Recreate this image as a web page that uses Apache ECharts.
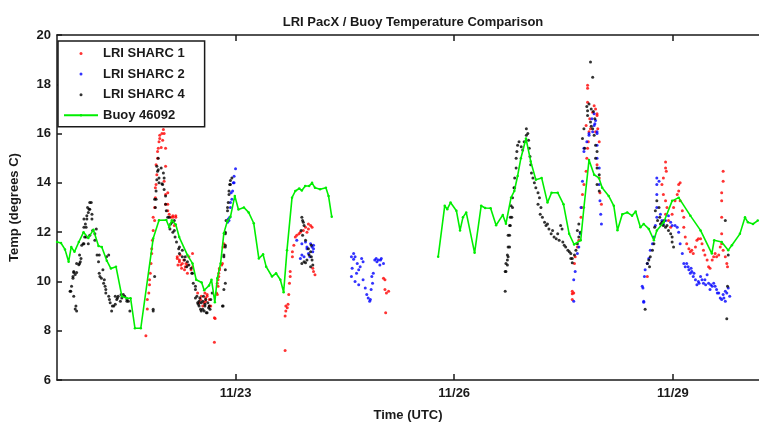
<!DOCTYPE html>
<html>
<head>
<meta charset="utf-8">
<script src="https://cdn.jsdelivr.net/npm/echarts@6/dist/echarts.min.js"></script>
<style>html,body{margin:0;padding:0;background:#fff}#c{width:759px;height:427px}</style>
</head>
<body>
<div id="c"></div>
<script>
// x = day of November 2011 (UTC, fractional), y = temperature (deg C)
const tickDays = [23, 26, 29];
const tickLabels = ['11/23', '11/26', '11/29'];
const yTicks = [6, 8, 10, 12, 14, 16, 18, 20];

const sharc1 = [
[21.77,7.8],[21.79,9.27],[21.79,8.88],[21.81,9.53],[21.82,10.07],[21.82,9.87],[21.83,10.33],[21.84,10.73],[21.85,11.13],[21.85,11.33],[21.86,11.67],[21.87,12.07],[21.87,12.6],[21.89,12.47],[21.89,13.0],[21.90,13.4],[21.90,13.8],[21.91,13.93],[21.91,14.73],[21.92,14.33],[21.93,15.0],[21.93,15.27],[21.94,15.4],[21.95,15.67],[21.96,15.93],[21.96,15.8],[21.99,16.0],[22.01,16.17],[21.98,15.43],[22.0,15.73],[22.02,16.0],[22.04,15.4],[22.04,14.67],[22.02,14.07],[22.04,13.53],[22.04,13.13],[22.07,12.87],[22.07,13.6],[22.07,13.13],[22.09,12.73],[22.11,12.6],[22.14,12.67],[22.14,12.6],[22.18,12.6],[22.18,12.67],[22.16,12.27],[22.20,10.93],[22.20,11.0],[22.23,10.8],[22.23,10.87],[22.25,10.67],[22.27,10.73],[22.30,10.47],[22.32,10.73],[22.34,10.33],[22.34,10.67],[22.36,11.0],[22.39,10.47],[22.41,10.6],[22.41,11.13],[22.48,9.53],[22.50,9.13],[22.52,9.27],[22.55,9.0],[22.57,9.13],[22.59,9.33],[22.59,9.2],[22.61,9.47],[22.61,9.4],[22.64,9.27],[22.64,9.0],[22.66,9.0],[22.71,8.53],[22.71,7.53],[22.72,8.5],[22.75,9.47],[22.76,9.8],[22.77,10.2],[22.78,10.47],
[22.21,10.67],[22.24,11.07],[22.26,10.53],[22.29,10.87],[22.31,10.6],[22.53,9.4],[22.58,9.53],
[22.74,9.53],[22.75,9.93],[22.76,10.07],[22.77,10.33],[22.78,10.53],[22.81,10.67],[22.82,10.73],[22.83,11.4],[22.84,11.53],
[23.68,7.2],[23.68,8.6],[23.69,8.8],[23.69,9.0],[23.71,8.93],[23.72,9.07],[23.73,9.47],[23.74,9.93],[23.75,10.2],[23.75,10.4],[23.78,11.0],[23.78,11.2],[23.80,11.47],[23.82,11.8],[23.84,11.87],[23.87,11.93],[23.89,12.0],[23.96,12.2],[24.0,12.13],[24.03,12.27],[24.05,12.2],[24.0,12.33],[24.07,10.4],[24.09,10.27],[24.06,10.53],[23.93,12.07],[23.98,12.0],
[25.03,10.13],[25.05,10.07],[25.07,9.53],[25.10,9.6],[25.06,8.73],[25.05,9.67],
[27.62,9.27],[27.64,9.53],[27.65,10.73],[27.66,11.0],[27.69,11.4],[27.71,11.67],[27.74,12.6],[27.75,13.0],[27.76,13.53],[27.78,13.93],[27.81,14.47],[27.82,15.0],[27.83,15.4],[27.84,15.67],[27.85,16.07],[27.86,16.6],[27.90,16.87],[27.94,17.0],[27.96,16.73],[27.97,16.2],[27.99,15.67],[27.96,14.73],[27.99,14.2],[28.0,13.6],[28.02,13.13],[27.83,17.96],[27.83,17.84],[27.83,17.27],[27.92,17.13],[27.96,16.8],[27.81,16.33],[27.87,16.2],[27.94,16.07],[27.62,9.6],[27.62,9.5],
[28.90,14.85],[28.90,14.6],[28.91,14.47],[28.87,14.2],[28.85,13.93],[28.87,13.53],[28.90,13.27],[28.92,13.0],[28.90,12.73],[28.94,12.47],[28.97,12.2],[28.99,12.73],[29.01,13.0],[29.03,13.27],[29.06,13.53],[29.08,13.93],[29.10,14.0],[29.08,13.67],[29.10,13.27],[29.13,12.87],[29.15,12.6],[29.15,12.2],[29.17,11.8],[29.19,11.53],[29.22,11.33],[29.24,11.2],[29.26,11.27],[29.28,11.13],[29.31,11.4],[29.33,11.67],[29.35,11.73],[29.38,11.73],[29.40,11.53],[29.42,11.27],[29.44,11.07],[29.47,10.87],[29.49,10.6],[29.51,10.53],[29.54,10.87],[29.56,11.0],[29.58,11.13],[29.60,11.0],[29.63,11.07],[29.65,11.4],[29.67,11.53],[29.69,11.27],[29.72,11.0],[29.74,10.73],[29.75,10.6],[29.67,12.6],[29.67,13.27],[29.67,13.6],[29.69,14.07],[29.69,14.47],[29.67,11.93],[28.65,10.2]
];

const sharc2 = [
[23.0,14.57],[22.98,14.27],[22.98,14.0],[22.96,13.67],[22.95,13.33],[22.93,13.0],[22.92,12.6],[22.90,12.53],[22.97,14.0],[22.94,13.6],[22.93,13.2],[22.91,12.47],[22.89,12.4],
[23.84,11.67],[23.91,11.53],[23.96,11.6],[23.98,11.4],[24.03,11.53],[24.07,11.47],[24.07,11.33],[23.91,11.07],[23.94,11.0],[24.0,11.13],[23.98,11.33],[24.05,11.4],[23.89,10.93],[24.06,11.2],[24.02,11.0],
[24.59,11.0],[24.62,11.13],[24.64,11.0],[24.73,10.93],[24.75,10.8],[24.71,10.6],[24.69,10.47],[24.66,10.33],[24.59,10.2],[24.64,10.0],[24.69,9.87],[24.75,10.07],[24.78,9.73],[24.80,9.47],[24.82,9.33],[24.84,9.2],[24.87,10.2],[24.89,10.33],[24.88,9.93],[24.86,9.67],[24.91,10.87],[24.96,10.87],[25.0,10.93],[24.98,10.67],[24.94,10.8],[25.03,10.73],[24.60,10.53],[24.67,10.73],[24.85,9.27],[24.99,10.87],[24.93,10.93],[24.62,10.9],
[27.64,9.2],[27.64,10.07],[27.66,10.4],[27.69,11.13],[27.71,11.4],[27.73,11.93],[27.74,13.0],[27.76,14.07],[27.78,15.4],[27.82,15.67],[27.85,16.0],[27.90,16.07],[27.92,16.33],[27.94,16.53],[27.96,16.0],[27.96,15.53],[27.96,15.0],[27.99,14.6],[27.99,13.93],[28.0,13.27],[28.01,12.73],[28.02,12.33],[27.78,15.27],[27.93,16.4],[27.96,16.07],[27.85,15.93],[27.92,16.8],[27.89,16.6],
[28.60,9.16],[28.59,9.73],[28.61,10.2],[28.62,10.47],[28.65,10.73],[28.67,10.93],[28.69,11.27],[28.72,11.53],[28.74,11.8],[28.76,12.27],[28.78,12.6],[28.78,13.0],[28.78,13.53],[28.78,13.93],[28.78,14.2],[28.81,14.07],[28.83,12.73],[28.85,12.47],[28.87,12.33],[28.90,12.47],[28.94,12.67],[28.97,12.4],[28.99,12.27],[29.03,12.27],[29.06,12.2],[29.08,12.0],[29.10,11.53],[29.13,11.13],[29.15,10.73],[29.17,10.6],[29.19,10.73],[29.22,10.47],[29.24,10.33],[29.26,10.4],[29.28,10.2],[29.31,10.07],[29.33,9.87],[29.35,10.0],[29.38,10.2],[29.40,10.07],[29.42,9.93],[29.44,10.07],[29.47,10.27],[29.49,9.93],[29.51,9.67],[29.54,9.8],[29.56,9.93],[29.58,9.8],[29.60,9.67],[29.63,9.53],[29.65,9.33],[29.67,9.27],[29.69,9.47],[29.72,9.6],[29.74,9.53],[29.76,9.73],[29.78,9.4],[29.72,9.2],[28.58,9.8],[28.60,9.2],
[29.21,10.6],[29.25,10.53],[29.29,10.33],[29.36,9.93],[29.45,9.87],[29.52,9.87],[29.61,9.53],[29.70,9.33]
];

const sharc4 = [
[20.73,9.6],[20.75,9.8],[20.77,10.13],[20.78,10.36],[20.80,10.28],[20.82,10.36],[20.78,9.4],[20.81,9.0],[20.82,8.8],[20.85,10.68],[20.86,10.73],[20.87,10.8],[20.88,10.93],[20.89,11.47],[20.92,11.53],[20.92,12.2],[20.94,12.33],[20.92,12.53],[20.96,12.67],[20.98,12.8],[20.97,13.0],[21.0,13.2],[21.0,12.93],[21.03,12.53],[20.95,11.8],[20.98,11.53],[21.0,11.87],[21.04,12.07],[21.07,11.67],[21.10,11.07],[21.12,10.8],[21.13,10.33],[21.14,10.2],[21.16,10.13],[21.19,9.93],[21.21,9.8],[21.23,11.0],[21.26,11.07],[21.22,9.53],[21.26,9.4],[21.28,9.13],[21.30,8.8],[21.33,9.0],[21.35,9.07],[21.37,9.27],[21.39,9.4],[21.42,9.2],[21.44,9.33],[21.46,9.47],[21.48,9.4],[21.51,9.27],[21.53,9.2],[21.55,8.8],[21.87,8.8],
[20.74,9.6],[20.77,10.2],[20.78,10.4],[20.80,8.88],[20.82,10.73],[20.86,11.07],[20.91,11.53],[20.93,11.8],[20.95,12.2],[20.96,12.53],[20.99,12.93],[21.02,13.2],[21.03,12.73],[21.07,11.93],[21.09,12.13],[21.13,11.07],[21.18,10.47],[21.20,10.07],[21.22,9.67],[21.27,9.27],[21.31,9.0],[21.35,9.4],[21.38,9.33],[21.43,9.47],[21.51,9.2],
[21.89,10.2],[21.92,14.67],[21.94,14.53],[21.98,14.6],[22.01,14.4],[22.02,14.2],[21.92,14.13],[21.95,14.0],[21.99,13.96],[22.02,13.73],[22.04,13.47],[21.91,13.33],[21.90,13.0],[22.04,13.13],[22.05,12.87],[22.09,12.6],[22.13,12.4],[22.16,12.47],[22.10,12.13],[22.14,12.0],[22.17,11.8],[22.19,11.6],[22.22,11.33],[22.23,11.13],[22.27,11.0],[22.30,10.87],[22.33,10.6],[22.36,10.67],[22.40,10.33],[22.42,9.93],[22.45,9.67],[22.45,9.33],[22.48,9.13],[22.50,9.0],[22.52,8.87],[22.55,9.2],[22.58,9.0],[22.60,8.73],[22.63,8.93],[22.66,9.27],[22.68,9.53],[22.83,9.0],[21.87,8.87],[21.94,15.0],[21.93,14.47],[21.95,14.2],[21.89,13.33],[21.91,13.67],[22.0,13.93],[22.07,12.6],[22.11,12.33],[22.16,12.07],[22.23,11.4],[22.27,11.27],[22.31,11.0],[22.34,10.8],[22.39,10.53],[22.41,10.33],[22.45,9.8],[22.50,9.2],[22.55,8.87],[22.58,9.07],[22.61,8.73],[22.64,9.0],[22.82,9.0],[22.84,11.0],[22.86,11.4],[22.86,12.0],[22.87,12.47],[22.89,12.87],[22.90,13.2],[22.91,13.67],[22.92,13.93],[22.93,14.1],[22.86,10.47],[22.86,9.93],[22.84,9.67],[22.86,11.93],[22.86,11.47],[22.84,11.07],[22.89,13.0],[22.91,13.53],[22.93,13.93],[22.95,14.2],
[22.47,9.4],[22.49,9.07],[22.51,9.33],[22.53,9.13],[22.56,9.4],[22.57,8.8],[22.59,9.27],[22.62,9.13],[22.65,8.87],[22.53,8.8],
[23.91,12.6],[23.92,12.47],[23.94,12.27],[23.90,12.07],[23.92,11.87],[23.96,11.67],[24.0,11.33],[24.03,11.2],[24.04,11.0],[24.05,10.87],[24.06,10.67],[23.98,10.87],[23.94,10.8],[23.91,10.73],[23.96,10.76],[24.03,10.6],[24.01,11.07],[24.04,11.47],[23.93,12.4],
[26.70,9.6],[26.70,10.4],[26.71,10.73],[26.73,11.07],[26.74,11.4],[26.76,11.87],[26.77,12.27],[26.79,12.6],[26.80,13.0],[26.80,13.4],[26.83,13.8],[26.83,14.2],[26.85,14.6],[26.85,15.0],[26.86,15.27],[26.87,15.53],[26.89,15.67],[26.92,15.47],[26.94,15.33],[26.96,15.67],[26.99,15.93],[26.99,16.2],[27.01,16.0],[27.02,15.73],[27.03,15.4],[27.04,15.07],[27.05,14.73],[27.06,14.4],[27.08,14.2],[27.10,14.0],[27.12,13.8],[27.15,13.6],[27.17,13.4],[27.15,13.13],[27.19,13.0],[27.18,12.73],[27.21,12.6],[27.24,12.4],[27.26,12.27],[27.28,12.33],[27.30,12.13],[27.33,11.93],[27.35,12.07],[27.37,11.8],[27.40,11.73],[27.42,11.93],[27.44,11.67],[27.46,12.27],[27.48,12.13],[27.49,11.6],[27.51,11.47],[27.53,11.4],[27.56,11.27],[27.58,11.2],[27.60,11.13],[27.62,10.93],[27.65,11.07],[27.67,11.27],[27.69,11.53],[27.71,11.8],[27.73,12.0],[27.60,10.93],[27.62,10.76],[27.71,12.33],[27.69,12.07],
[26.71,10.4],[26.73,10.87],[26.73,10.67],[26.74,11.0],[26.76,11.4],[26.74,11.87],[26.76,12.27],[26.77,12.6],[26.78,13.07],[26.82,13.8],
[27.87,18.9],[27.90,18.29],[27.83,16.93],[27.83,16.73],[27.87,16.47],[27.90,16.2],[27.92,15.93],[27.94,15.53],[27.96,15.27],[27.94,15.0],[27.96,14.6],[27.99,14.33],[27.96,13.93],[27.99,13.67],[27.78,16.2],[27.76,15.8],[27.79,15.4],[27.85,17.2],[27.88,17.0],[27.91,16.9],[27.82,17.1],[27.93,16.6],[27.88,16.3],
[28.62,8.87],[28.65,10.73],[28.67,10.87],[28.69,11.0],[28.68,10.6],[28.72,11.27],[28.74,11.53],[28.76,12.87],[28.78,13.27],[28.81,13.0],[28.82,12.6],[28.85,12.4],[28.87,12.27],[28.90,12.2],[28.92,12.27],[28.94,12.07],[28.97,11.93],[28.99,11.8],[29.01,11.4],[28.99,11.6],[28.79,12.47],[28.83,12.33],[28.88,12.47],[28.75,12.2],
[29.72,12.47],[29.76,11.07],[29.75,9.8],[29.74,8.49]
];

const buoy = [
[20.551,11.6],[20.605,11.56],[20.66,11.3],[20.71,10.8],[20.746,11.4],[20.79,11.2],[20.85,11.6],[20.915,12.0],[20.98,11.76],[21.05,12.1],[21.12,11.44],[21.165,11.4],[21.234,10.84],[21.29,10.52],[21.36,10.6],[21.44,9.4],[21.51,9.32],[21.56,9.32],[21.62,8.1],[21.70,8.1],[21.87,11.74],[21.95,12.48],[22.05,12.49],[22.09,12.2],[22.126,12.48],[22.18,12.31],[22.227,11.8],[22.34,11.07],[22.41,10.73],[22.46,10.07],[22.535,9.96],[22.57,9.64],[22.636,9.83],[22.67,10.07],[22.716,9.16],[22.75,10.13],[22.795,10.73],[22.84,11.96],[22.887,12.44],[22.93,12.62],[22.99,13.47],[23.04,12.92],[23.115,13.0],[23.18,12.8],[23.25,12.36],[23.32,10.93],[23.378,11.1],[23.42,10.6],[23.50,10.2],[23.556,10.33],[23.615,10.07],[23.66,9.56],[23.706,11.27],[23.775,13.4],[23.82,13.67],[23.874,13.77],[23.91,13.69],[23.956,13.87],[24.01,13.87],[24.05,14.0],[24.09,13.8],[24.16,13.74],[24.24,13.8],[24.276,13.47],[24.32,12.62],
['-','-'],
[25.78,11.0],[25.87,13.07],[25.905,12.93],[25.95,13.2],[26.03,12.87],[26.08,12.07],[26.12,12.6],[26.165,12.8],[26.28,11.16],[26.37,13.07],[26.425,12.98],[26.50,12.97],[26.575,12.28],[26.667,12.7],[26.71,12.34],[26.78,13.4],[26.825,13.67],[26.87,14.28],[26.915,15.0],[26.985,15.8],[27.05,14.87],[27.12,14.13],[27.20,14.2],[27.28,13.2],[27.336,13.6],[27.42,13.6],[27.50,13.13],[27.577,11.93],[27.645,11.5],[27.736,11.67],[27.78,13.0],[27.85,14.93],[27.92,14.33],[27.986,14.2],[28.03,13.8],[28.12,13.47],[28.19,13.07],[28.24,12.08],[28.306,12.73],[28.374,12.8],[28.44,12.67],[28.49,12.84],[28.555,12.2],[28.60,12.33],[28.67,12.13],[28.74,11.67],[28.78,12.07],[28.875,12.4],[28.99,13.27],[29.08,13.4],[29.24,12.67],[29.38,12.07],[29.535,11.13],[29.567,11.67],[29.67,11.6],[29.76,11.27],[29.81,11.47],[29.92,11.93],[29.99,12.6],[30.03,12.4],[30.10,12.33],[30.165,12.47]
];

const FONT = "'Liberation Sans', Arial, sans-serif";
const chart = echarts.init(document.getElementById('c'), null, {renderer: 'canvas'});
const axisLine = {show: true, onZero: false, lineStyle: {color: '#1a1a1a', width: 1.5}};
chart.setOption({
  animation: false,
  backgroundColor: '#ffffff',
  title: {
    text: 'LRI PacX / Buoy Temperature Comparison',
    left: 408, top: 11, textAlign: 'center',
    textStyle: {fontFamily: FONT, fontSize: 13, fontWeight: 'bold', color: '#1a1a1a'}
  },
  legend: {
    orient: 'vertical', left: 58, top: 41,
    padding: [5, 20, 4, 5],
    itemWidth: 34, itemHeight: 3, itemGap: 5.6,
    borderColor: '#1a1a1a', borderWidth: 1.5, backgroundColor: '#fff',
    textStyle: {fontFamily: FONT, fontSize: 13, fontWeight: 'bold', color: '#1a1a1a', lineHeight: 15},
    data: ['LRI SHARC 1', 'LRI SHARC 2', 'LRI SHARC 4', 'Buoy 46092']
  },
  grid: {left: 54, right: 0, top: 35, bottom: 42, containLabel: false},
  xAxis: [{
    type: 'value', min: 20.5505, max: 30.182, position: 'bottom',
    name: 'Time (UTC)', nameLocation: 'middle', nameGap: 29,
    nameTextStyle: {fontFamily: FONT, fontSize: 13, fontWeight: 'bold', color: '#1a1a1a'},
    axisLine: axisLine,
    axisTick: {show: true, inside: true, length: 6, customValues: tickDays, lineStyle: {color: '#1a1a1a', width: 1.5}},
    axisLabel: {show: true, customValues: tickDays, margin: 7,
      formatter: v => tickLabels[tickDays.indexOf(Math.round(v))] || '',
      fontFamily: FONT, fontSize: 13, fontWeight: 'bold', color: '#1a1a1a'},
    splitLine: {show: false}
  }, {
    type: 'value', min: 20.5505, max: 30.182, position: 'top',
    axisLine: axisLine,
    axisTick: {show: true, inside: true, length: 6, customValues: tickDays, lineStyle: {color: '#1a1a1a', width: 1.5}},
    axisLabel: {show: false},
    splitLine: {show: false}
  }],
  yAxis: {
    type: 'value', min: 6, max: 20, interval: 2,
    name: 'Temp (degrees C)', nameLocation: 'middle', nameGap: 36,
    nameTextStyle: {fontFamily: FONT, fontSize: 13, fontWeight: 'bold', color: '#1a1a1a'},
    axisLine: axisLine,
    axisTick: {show: true, inside: true, length: 5, lineStyle: {color: '#1a1a1a', width: 1.5}},
    axisLabel: {margin: 6, fontFamily: FONT, fontSize: 13, fontWeight: 'bold', color: '#1a1a1a',
      formatter: v => (yTicks.indexOf(v) >= 0 ? String(v) : '')},
    splitLine: {show: false}
  },
  series: [
    {name: 'LRI SHARC 1', type: 'scatter', data: sharc1, symbol: 'circle', symbolSize: 3, itemStyle: {color: '#ff0000'}},
    {name: 'LRI SHARC 2', type: 'scatter', data: sharc2, symbol: 'circle', symbolSize: 3, itemStyle: {color: '#0000ff'}},
    {name: 'LRI SHARC 4', type: 'scatter', data: sharc4, symbol: 'circle', symbolSize: 3, itemStyle: {color: '#000000'}},
    {name: 'Buoy 46092', type: 'line', data: buoy, connectNulls: false, symbol: 'circle', symbolSize: 2.5, showSymbol: true,
      lineStyle: {color: '#00ee00', width: 1.6}, itemStyle: {color: '#00ee00'}}
  ]
});
</script>
</body>
</html>
